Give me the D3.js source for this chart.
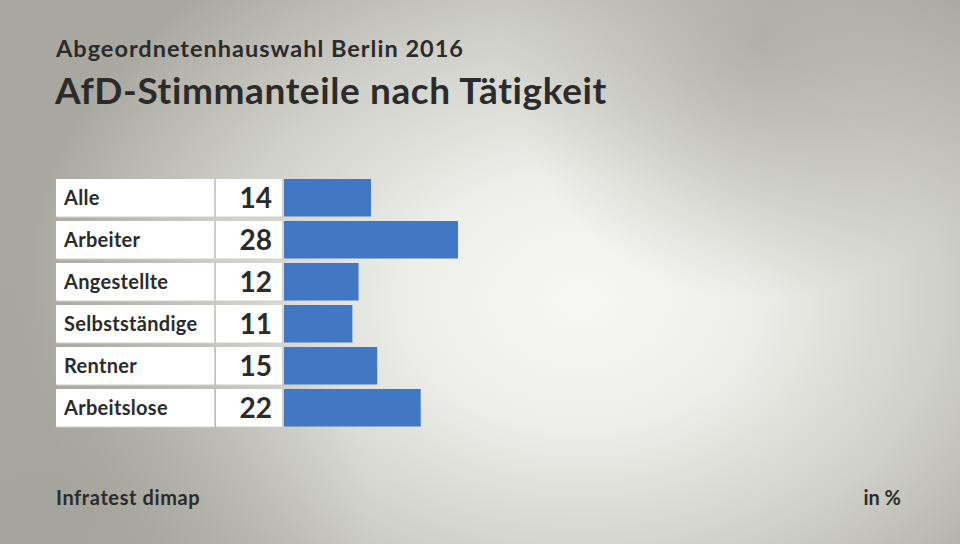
<!DOCTYPE html>
<html><head><meta charset="utf-8">
<script src="https://cdn.jsdelivr.net/npm/d3@7"></script>
<style>html,body{margin:0;padding:0;}svg{display:block;}</style>
</head><body>
<svg id="c" width="960" height="544"></svg>
<script>
const categories = ["Alle","Arbeiter","Angestellte","Selbstständige","Rentner","Arbeitslose"];
const values = [14,28,12,11,15,22];
const subtitle = "Abgeordnetenhauswahl Berlin 2016";
const title = "AfD-Stimmanteile nach Tätigkeit";
const source = "Infratest dimap";
const unit = "in %";

const svg = d3.select("#c");
const defs = svg.append("defs");
const g1 = defs.append("radialGradient").attr("id","bg").attr("gradientUnits","userSpaceOnUse")
  .attr("cx",580).attr("cy",300).attr("r",560).attr("gradientTransform","translate(580,300) scale(1,0.75) translate(-580,-300)");
[[0,"#f7f7f4"],[0.3,"#eeeeea"],[0.65,"#d0d0ca"],[1,"#a9a8a0"]].forEach(s=>g1.append("stop").attr("offset",s[0]).attr("stop-color",s[1]));
svg.append("rect").attr("width",960).attr("height",544).attr("fill","url(#bg)");
const g2 = defs.append("radialGradient").attr("id","tr").attr("gradientUnits","userSpaceOnUse")
  .attr("cx",760).attr("cy",40).attr("r",260);
g2.append("stop").attr("offset",0).attr("stop-color","#a8a79f").attr("stop-opacity",0.75);
g2.append("stop").attr("offset",1).attr("stop-color","#a8a79f").attr("stop-opacity",0);
svg.append("rect").attr("width",960).attr("height",544).attr("fill","url(#tr)");
const g3 = defs.append("radialGradient").attr("id","bl").attr("gradientUnits","userSpaceOnUse")
  .attr("cx",40).attr("cy",520).attr("r",330);
g3.append("stop").attr("offset",0).attr("stop-color","#a5a49c").attr("stop-opacity",0.8);
g3.append("stop").attr("offset",1).attr("stop-color","#a5a49c").attr("stop-opacity",0);
svg.append("rect").attr("width",960).attr("height",544).attr("fill","url(#bl)");

const font = "Lato, 'Open Sans', sans-serif";
const txt = "#2b2b2b";
svg.append("text").attr("x",56).attr("y",57).attr("font-family",font).attr("font-weight",700)
  .attr("font-size",23.5).attr("letter-spacing",1).attr("fill",txt).text(subtitle);
svg.append("text").attr("x",55).attr("y",104).attr("font-family",font).attr("font-weight",700)
  .attr("font-size",37).attr("letter-spacing",0.6).attr("fill",txt).text(title);

const y = d3.scaleBand().domain(categories).range([179,426.5]).paddingInner(0.107).paddingOuter(0);
const x = d3.scaleLinear().domain([0,d3.max(values)]).range([284,458]);

const rows = svg.append("g").selectAll("g").data(categories).join("g");
rows.append("rect").attr("x",57).attr("y",d=>y(d)+1).attr("width",158).attr("height",y.bandwidth()).attr("fill","#cfcfca");
rows.append("rect").attr("x",56).attr("y",d=>y(d)).attr("width",158).attr("height",y.bandwidth()).attr("fill","#ffffff");
rows.append("rect").attr("x",217).attr("y",d=>y(d)+1).attr("width",66).attr("height",y.bandwidth()).attr("fill","#cfcfca");
rows.append("rect").attr("x",216).attr("y",d=>y(d)).attr("width",66).attr("height",y.bandwidth()).attr("fill","#ffffff");
rows.append("rect").attr("x",x(0)).attr("y",d=>y(d)).attr("width",(d,i)=>x(values[i])-x(0)).attr("height",y.bandwidth()).attr("fill","#4277c4");
rows.append("text").attr("x",64).attr("y",d=>y(d)+y.bandwidth()/2+7).attr("font-family",font).attr("font-weight",700)
  .attr("font-size",20).attr("letter-spacing",0.3).attr("fill",txt).text(d=>d);
rows.append("text").attr("x",272).attr("y",d=>y(d)+y.bandwidth()/2+10).attr("text-anchor","end").attr("font-family",font).attr("font-weight",700)
  .attr("font-size",28).attr("fill",txt).text((d,i)=>values[i]);

svg.append("text").attr("x",56).attr("y",505).attr("font-family",font).attr("font-weight",700)
  .attr("font-size",20).attr("letter-spacing",0.6).attr("fill",txt).text(source);
svg.append("text").attr("x",901).attr("y",505).attr("text-anchor","end").attr("font-family",font).attr("font-weight",700)
  .attr("font-size",20).attr("fill",txt).text(unit);
</script>
</body></html>
